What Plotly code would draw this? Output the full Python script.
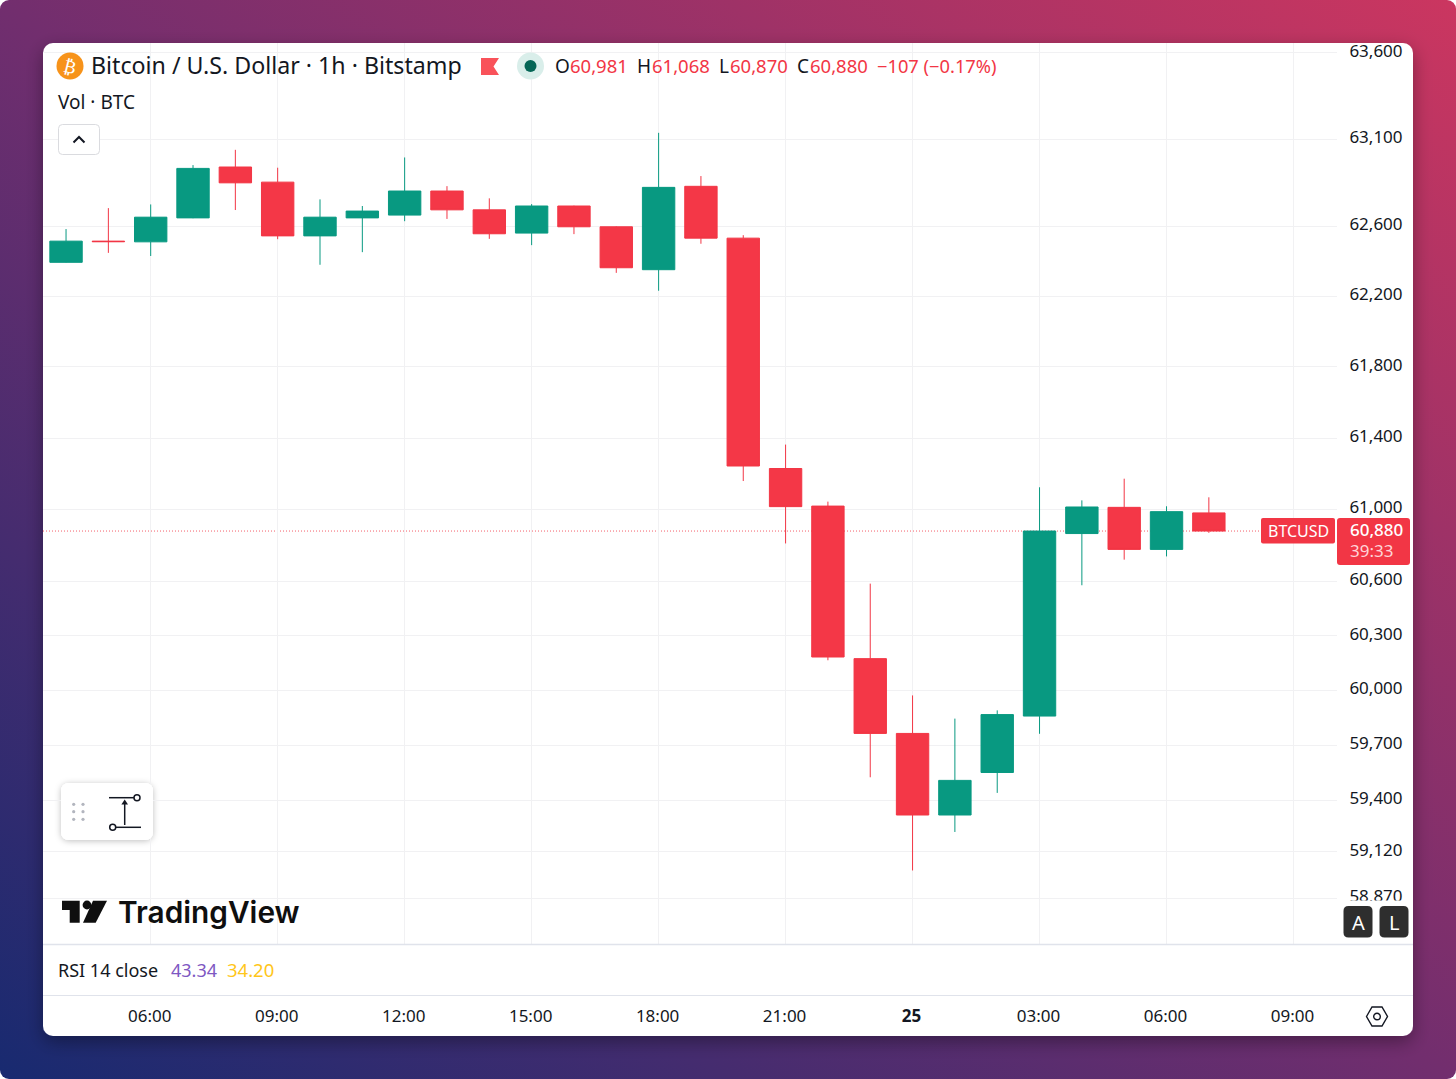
"""Recreate the TradingView BTCUSD 1h candlestick screenshot."""

import base64

import plotly.graph_objects as go

W, H = 1456, 1079
FONT = "Noto Sans"
INK = "#131722"
UP = "#089981"
DOWN = "#F23645"
GRID = "#F1F1F3"
RULE = "#E0E3EB"

times = [
    "2024-06-24 04:00", "2024-06-24 05:00", "2024-06-24 06:00", "2024-06-24 07:00",
    "2024-06-24 08:00", "2024-06-24 09:00", "2024-06-24 10:00", "2024-06-24 11:00",
    "2024-06-24 12:00", "2024-06-24 13:00", "2024-06-24 14:00", "2024-06-24 15:00",
    "2024-06-24 16:00", "2024-06-24 17:00", "2024-06-24 18:00", "2024-06-24 19:00",
    "2024-06-24 20:00", "2024-06-24 21:00", "2024-06-24 22:00", "2024-06-24 23:00",
    "2024-06-25 00:00", "2024-06-25 01:00", "2024-06-25 02:00", "2024-06-25 03:00",
    "2024-06-25 04:00", "2024-06-25 05:00", "2024-06-25 06:00", "2024-06-25 07:00",
]
opens = [
    62394, 62515, 62511, 62648, 62940, 62853, 62545, 62648, 62664, 62802,
    62694, 62561, 62716, 62597, 62352, 62829, 62532, 61229, 61019, 60174,
    59764, 59320, 59551, 59859, 60866, 61012, 60778, 60981,
]
highs = [
    62584, 62704, 62725, 62951, 63039, 62936, 62754, 62716, 62995, 62830,
    62760, 62727, 62718, 62600, 63137, 62888, 62549, 61363, 61044, 60588,
    59972, 59845, 59890, 61124, 61051, 61172, 61018, 61068,
]
lows = [
    62392, 62448, 62430, 62646, 62693, 62526, 62380, 62452, 62629, 62642,
    62528, 62492, 62555, 62334, 62232, 62500, 61159, 60811, 60165, 59525,
    59020, 59228, 59440, 59762, 60579, 60721, 60739, 60870,
]
closes = [
    62515, 62512, 62652, 62932, 62849, 62545, 62652, 62687, 62802, 62694,
    62557, 62716, 62597, 62363, 62823, 62532, 61243, 61016, 60183, 59764,
    59320, 59508, 59867, 60880, 61014, 60778, 60988, 60880,
]

price_ticks = [63600, 63100, 62600, 62200, 61800, 61400, 61000, 60600,
               60300, 60000, 59700, 59400, 59120, 58870]
time_ticks = ["2024-06-24 06:00", "2024-06-24 09:00", "2024-06-24 12:00", "2024-06-24 15:00",
              "2024-06-24 18:00", "2024-06-24 21:00", "2024-06-25 00:00", "2024-06-25 03:00",
              "2024-06-25 06:00", "2024-06-25 09:00"]
time_labels = ["06:00", "09:00", "12:00", "15:00", "18:00", "21:00", "<b>25</b>",
               "03:00", "06:00", "09:00"]
last_price = 60880


def X(px):
    return px / W


def Y(px):
    return 1 - px / H


def rrect(x0, y0, x1, y1, r):
    # rounded rectangle as a path, in paper coordinates
    pts = [
        ("M", x0 + r, y0), ("L", x1 - r, y0), ("Q", x1, y0, x1, y0 + r),
        ("L", x1, y1 - r), ("Q", x1, y1, x1 - r, y1), ("L", x0 + r, y1),
        ("Q", x0, y1, x0, y1 - r), ("L", x0, y0 + r), ("Q", x0, y0, x0 + r, y0),
    ]
    out = []
    for p in pts:
        coords = [f"{X(v)} {Y(v2)}" for v, v2 in zip(p[1::2], p[2::2])]
        out.append(p[0] + " " + " ".join(coords))
    return " ".join(out) + " Z"


def poly(points, close=True):
    d = " ".join(("M" if i == 0 else "L") + f" {X(a)} {Y(b)}" for i, (a, b) in enumerate(points))
    return d + (" Z" if close else "")


def path_shape(d, fill="rgba(0,0,0,0)", line=None, width=0):
    return dict(type="path", path=d, xref="paper", yref="paper", layer="above",
                fillcolor=fill, line=dict(color=line or "rgba(0,0,0,0)", width=width))


def circle(cx, cy, r, fill="rgba(0,0,0,0)", line=None, width=0):
    return dict(type="circle", xref="paper", yref="paper", layer="above",
                x0=X(cx - r), x1=X(cx + r), y0=Y(cy + r), y1=Y(cy - r),
                fillcolor=fill, line=dict(color=line or "rgba(0,0,0,0)", width=width))


def label(x, y, text, size=18, color=INK, anchor="left", font=FONT, angle=0, weight="normal"):
    return dict(x=X(x), y=Y(y), xref="paper", yref="paper", text=text, showarrow=False,
                xanchor=anchor, yanchor="middle", borderpad=0, textangle=angle,
                font=dict(family=font, size=size, color=color, weight=weight))


# Page background: gradient, card and the soft shadows, as one svg
background_svg = f"""<svg xmlns="http://www.w3.org/2000/svg" width="{W}" height="{H}" viewBox="0 0 {W} {H}">
<defs>
<linearGradient id="g" x1="0" y1="1" x2="1" y2="0">
<stop offset="0" stop-color="#182A70"/><stop offset="0.5" stop-color="#722E6E"/><stop offset="1" stop-color="#CB3660"/>
</linearGradient>
<filter id="s" x="-10%" y="-10%" width="120%" height="120%"><feDropShadow dx="0" dy="6" stdDeviation="9" flood-color="#000" flood-opacity="0.35"/></filter>
<filter id="p" x="-30%" y="-30%" width="160%" height="160%"><feDropShadow dx="0" dy="1" stdDeviation="3" flood-color="#000" flood-opacity="0.25"/></filter>
</defs>
<rect width="{W}" height="{H}" rx="9" fill="url(#g)"/>
<rect x="43" y="43" width="1370" height="993" rx="10" fill="#fff" filter="url(#s)"/>
<rect x="61" y="783" width="92" height="57" rx="8" fill="#fff" filter="url(#p)"/>
</svg>"""
background = "data:image/svg+xml;base64," + base64.b64encode(background_svg.encode()).decode()

fig = go.Figure()
fig.add_trace(go.Candlestick(
    x=times, open=opens, high=highs, low=lows, close=closes,
    increasing=dict(line=dict(color=UP, width=1), fillcolor=UP),
    decreasing=dict(line=dict(color=DOWN, width=1), fillcolor="#F43747"),
    whiskerwidth=0, showlegend=False,
))

shapes = [
    # last price line, under the candles
    dict(type="line", xref="paper", yref="y", layer="below", x0=X(43), x1=X(1260),
         y0=last_price, y1=last_price, line=dict(color="rgba(242,54,69,0.8)", width=1, dash="1px,2px")),
    # rules above and below the RSI legend
    dict(type="line", xref="paper", yref="paper", layer="above", x0=X(43), x1=X(1413),
         y0=Y(944.5), y1=Y(944.5), line=dict(color=RULE, width=1.5)),
    dict(type="line", xref="paper", yref="paper", layer="above", x0=X(43), x1=X(1413),
         y0=Y(995.5), y1=Y(995.5), line=dict(color=RULE, width=1)),
    # header icons
    circle(70, 66, 13.5, fill="#F7931A"),
    path_shape(poly([(481, 58), (499, 58), (493.5, 66.5), (499, 75), (481, 75)]), fill="#F9525A"),
    circle(530.5, 66, 13.5, fill="#D9EEEA"),
    circle(530.5, 66, 6, fill="#056656"),
    # collapse button
    path_shape(rrect(58.5, 124.5, 99.5, 154.5, 4), fill="#FFFFFF", line="#DADBDF", width=1),
    path_shape(poly([(73.5, 142.5), (79, 137), (84.5, 142.5)], close=False), line=INK, width=2),
    # floating tool panel
    path_shape(rrect(61, 783, 153, 840, 8), fill="#FFFFFF"),
    path_shape(poly([(109, 797.7), (134, 797.7)], close=False), line=INK, width=1.5),
    path_shape(poly([(116, 827.3), (141, 827.3)], close=False), line=INK, width=1.5),
    path_shape(poly([(124.7, 825), (124.7, 802)], close=False), line=INK, width=1.5),
    path_shape(poly([(124.7, 799.5), (128, 804.5), (121.4, 804.5)]), fill=INK),
    circle(137, 797.7, 3, fill="#FFFFFF", line=INK, width=1.5),
    circle(112.7, 827.3, 3, fill="#FFFFFF", line=INK, width=1.5),
    # TradingView logo mark
    path_shape(poly([(62, 900.7), (79.7, 900.7), (79.7, 922.7), (69.7, 922.7),
                     (69.7, 910), (62, 910)]), fill="#0F0F0F"),
    circle(87, 905, 4.4, fill="#0F0F0F"),
    path_shape(poly([(93, 900.7), (107, 900.7), (95.7, 922.7), (83, 922.7)]), fill="#0F0F0F"),
    # the axis pane clips the lowest price label
    dict(type="rect", xref="paper", yref="paper", layer="above", x0=X(1340), x1=X(1412),
         y0=Y(906), y1=Y(900.5), fillcolor="#FFFFFF", line=dict(width=0)),
    path_shape(rrect(1343.5, 906, 1372.5, 937.5, 5), fill="#2E2E2E"),
    path_shape(rrect(1379.5, 906, 1408.5, 937.5, 5), fill="#2E2E2E"),
    # last price tags
    path_shape(rrect(1261, 518, 1335, 543.5, 2), fill=DOWN),
    path_shape(rrect(1337, 518, 1410, 565, 3), fill=DOWN),
    # settings hexagon
    path_shape(poly([(1366.5, 1016.5), (1372, 1007), (1382, 1007), (1387.5, 1016.5),
                     (1382, 1026), (1372, 1026)]), line=INK, width=1.4),
    circle(1377, 1016.5, 3.3, line=INK, width=1.4),
]
for dx in (73.7, 83):
    for dy in (804.3, 811.7, 819.3):
        shapes.append(circle(dx, dy, 1.6, fill="#B2B5BE"))

annotations = [
    label(70, 66, "₿", size=18, color="#FFFFFF", anchor="center", font="DejaVu Sans", angle=14),
    label(89.5, 65, "Bitcoin / U.S. Dollar · 1h · Bitstamp", size=23.2),
    label(554, 65.5, "O", size=19),
    label(569, 65.5, "60,981", size=18.5, color=DOWN),
    label(636, 65.5, "H", size=19),
    label(651, 65.5, "61,068", size=18.5, color=DOWN),
    label(717.5, 65.5, "L", size=19),
    label(729, 65.5, "60,870", size=18.5, color=DOWN),
    label(796, 65.5, "C", size=19),
    label(809, 65.5, "60,880", size=18.5, color=DOWN),
    label(876, 65.5, "−107 (−0.17%)", size=18.3, color=DOWN),
    label(57, 101.5, "Vol · BTC", size=19),
    label(117, 912, "TradingView", size=29.8, color="#0F0F0F", font="Inter", weight=600),
    label(56.5, 969.5, "RSI 14 close", size=18),
    label(170, 969.5, "43.34", size=18, color="#7E57C2"),
    label(226, 969.5, "34.20", size=18.5, color="#FFC61A"),
    label(1298, 531, "BTCUSD", size=16, color="#FFFFFF", anchor="center"),
    label(1349, 529.5, "60,880", size=17, color="#FFFFFF", weight=500),
    label(1349, 550.5, "39:33", size=17, color="#FFD3D7"),
    label(1358, 922, "A", size=20, color="#FFFFFF", anchor="center"),
    label(1394, 922, "L", size=20, color="#FFFFFF", anchor="center"),
]

fig.update_layout(
    width=W,
    height=H,
    margin=dict(l=0, r=0, t=0, b=0),
    template="none",
    paper_bgcolor="#FFFFFF",
    plot_bgcolor="rgba(0,0,0,0)",
    font=dict(family=FONT, color=INK, size=17),
    boxgap=0.235,
    boxgroupgap=0,
    showlegend=False,
    shapes=shapes,
    annotations=annotations,
    images=[dict(source=background, xref="paper", yref="paper", x=0, y=1, sizex=1, sizey=1,
                 xanchor="left", yanchor="top", sizing="stretch", layer="below")],
    xaxis=dict(
        domain=[X(43), X(1337)],
        type="date",
        range=["2024-06-24 03:27:20", "2024-06-25 10:01:40"],
        rangeslider=dict(visible=False),
        tickmode="array",
        tickvals=time_ticks,
        ticktext=time_labels,
        ticks="outside",
        ticklen=57,
        ticklabelshift=-1,
        tickcolor="rgba(0,0,0,0)",
        tickfont=dict(size=17, color=INK),
        showgrid=True,
        gridcolor=GRID,
        gridwidth=1,
        showline=False,
        zeroline=False,
    ),
    yaxis=dict(
        domain=[Y(944), Y(43)],
        type="log",
        range=[4.76808, 4.80385],
        side="right",
        tickmode="array",
        tickvals=price_ticks,
        ticktext=[f"{p:,}" for p in price_ticks],
        ticks="outside",
        ticklen=8,
        ticklabelshift=-2,
        tickcolor="rgba(0,0,0,0)",
        tickfont=dict(size=17, color=INK),
        showgrid=True,
        gridcolor=GRID,
        gridwidth=1,
        showline=False,
        zeroline=False,
    ),
)

fig.write_html(
    "out.html",
    config={"displayModeBar": False},
    post_script="document.documentElement.style.margin='0';document.body.style.margin='0';"
                "document.body.style.overflow='hidden';",
)
